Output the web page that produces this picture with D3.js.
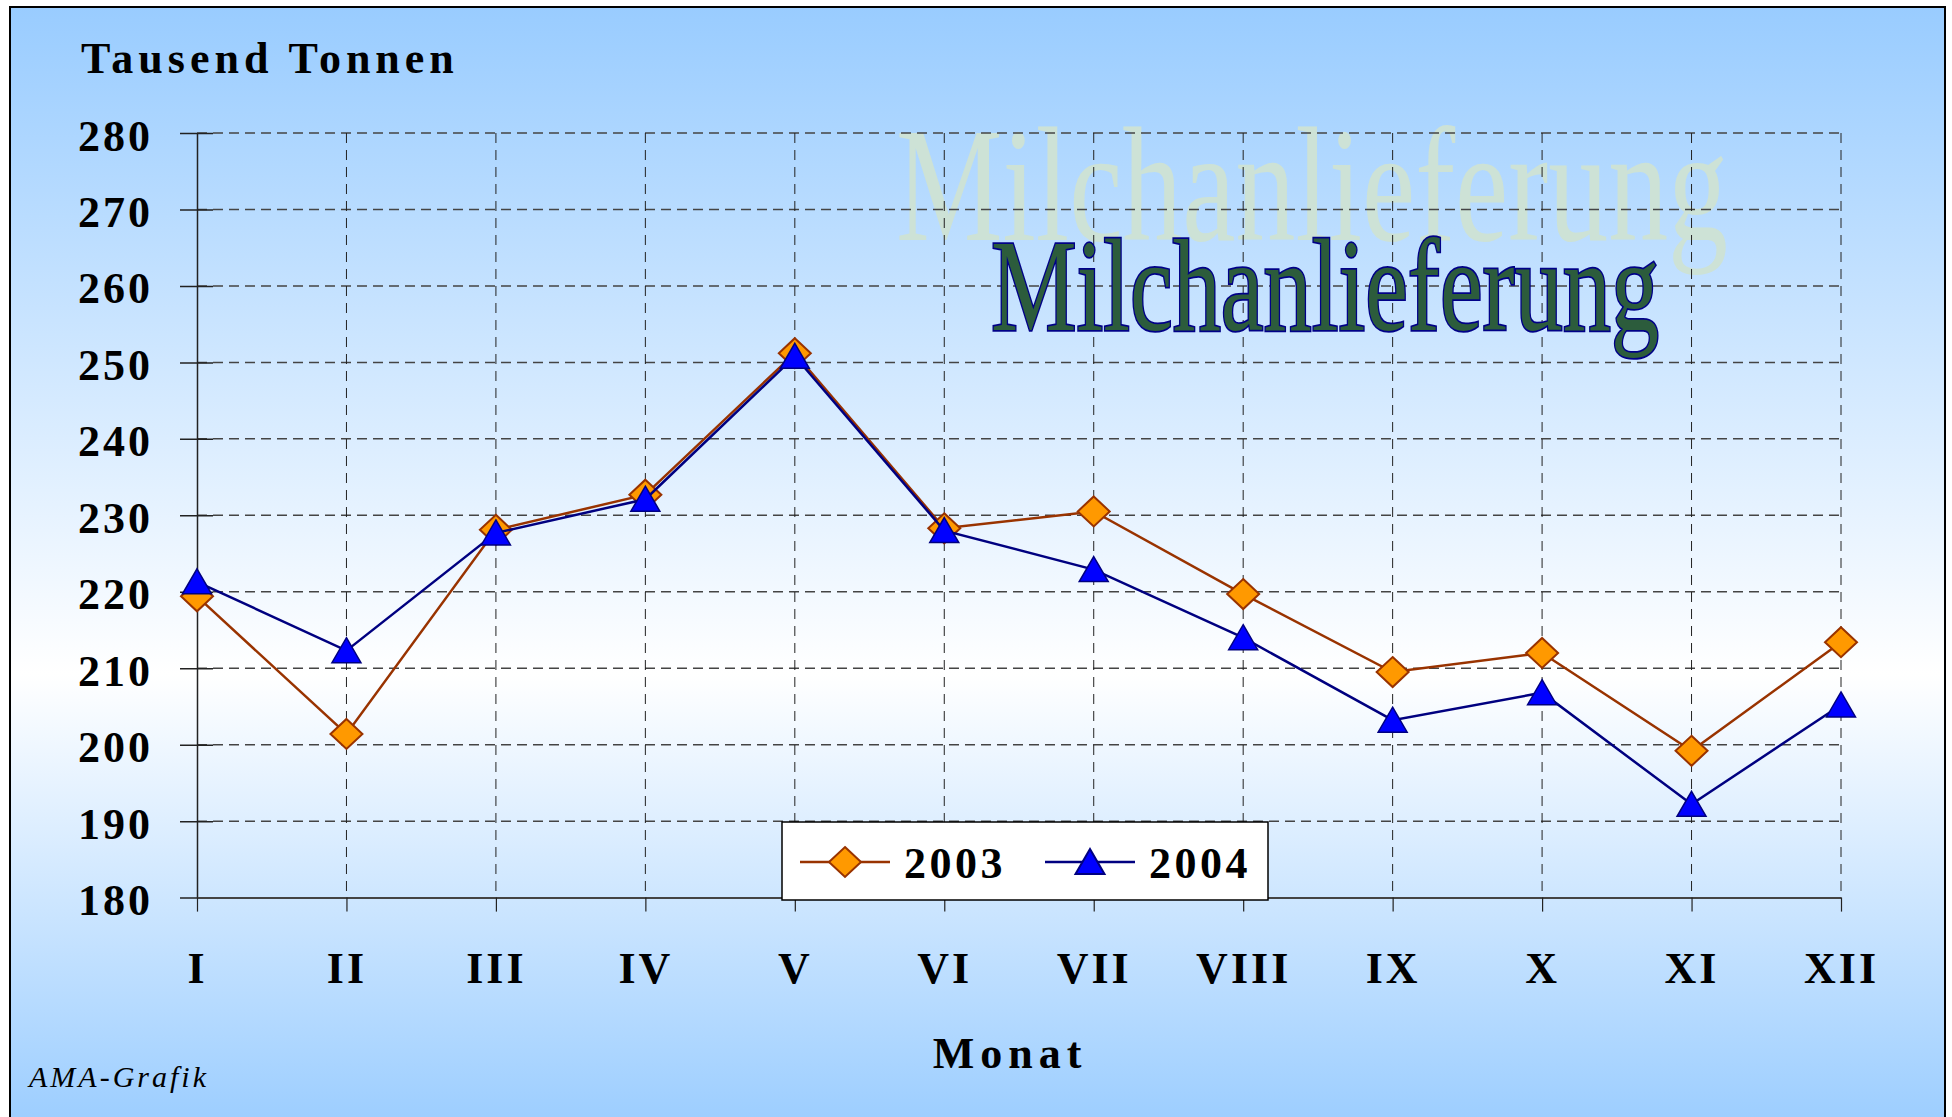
<!DOCTYPE html>
<html>
<head>
<meta charset="utf-8">
<script src="https://cdnjs.cloudflare.com/ajax/libs/d3/7.8.5/d3.min.js"></script>
<style>
    body { margin: 0; background: #fff; }
    text { font-family: 'Liberation Serif', 'Times New Roman', serif; }
</style>
</head>
<body>
<svg width="1952" height="1117"></svg>
<script>
var svg = d3.select('svg'),
    width = +svg.attr('width'),
    height = +svg.attr('height');

var months = ['I', 'II', 'III', 'IV', 'V', 'VI', 'VII', 'VIII', 'IX', 'X', 'XI', 'XII'];
var values2003 = [219.4, 201.4, 228.1, 232.7, 251.2, 228.3, 230.5, 219.7, 209.5, 212.0, 199.2, 213.4];
var values2004 = [221.3, 212.3, 227.7, 232.1, 250.8, 228.0, 222.9, 214.0, 203.2, 206.8, 192.2, 205.2];
var yTicks = [180, 190, 200, 210, 220, 230, 240, 250, 260, 270, 280];
var seriesNames = ['2003', '2004'];

var x = d3.scalePoint().domain(months).range([197, 1841]);
var y = d3.scaleLinear().domain([180, 280]).range([897.6, 133]);

// background
var defs = svg.append('defs');
var grad = defs.append('linearGradient')
        .attr('id', 'bg')
        .attr('x1', 0).attr('y1', 0).attr('x2', 0).attr('y2', 1);
grad.append('stop').attr('offset', '0%').attr('stop-color', '#99ccff');
grad.append('stop').attr('offset', '59%').attr('stop-color', '#ffffff');
grad.append('stop').attr('offset', '100%').attr('stop-color', '#99ccff');

svg.append('rect')
    .attr('x', 10).attr('y', 7)
    .attr('width', 1935).attr('height', 1130)
    .attr('fill', 'url(#bg)')
    .attr('stroke', '#000')
    .attr('stroke-width', 2);

// ghost title behind the grid
svg.append('text')
    .attr('x', 896).attr('y', 240)
    .attr('font-size', 163)
    .attr('textLength', 832)
    .attr('lengthAdjust', 'spacingAndGlyphs')
    .attr('fill', '#cde2d6')
    .text('Milchanlieferung');

// grid
svg.append('g')
    .selectAll('line')
    .data(yTicks.slice(1))
    .enter().append('line')
        .attr('x1', x('I')).attr('x2', x('XII'))
        .attr('y1', (d) => y(d)).attr('y2', (d) => y(d))
        .attr('stroke', '#444')
        .attr('stroke-width', 1.5)
        .attr('stroke-dasharray', '10,6');

svg.append('g')
    .selectAll('line')
    .data(months.slice(1))
    .enter().append('line')
        .attr('x1', (d) => x(d)).attr('x2', (d) => x(d))
        .attr('y1', y(280)).attr('y2', y(180))
        .attr('stroke', '#222')
        .attr('stroke-width', 1)
        .attr('stroke-dasharray', '10,7');

// axes
var yAxis = svg.append('g')
        .attr('transform', 'translate(' + x('I') + ',0)')
        .call(d3.axisLeft(y).tickValues(yTicks).tickSize(17).tickSizeOuter(0));
yAxis.select('.domain').attr('stroke', '#222').attr('stroke-width', 1.5);
yAxis.selectAll('.tick line').attr('x1', 16).attr('stroke', '#222').attr('stroke-width', 1.5);
yAxis.selectAll('text')
    .attr('x', -44).attr('dy', 17)
    .attr('font-size', 44)
    .attr('font-weight', 'bold')
    .attr('font-family', "'Liberation Serif', 'Times New Roman', serif")
    .attr('letter-spacing', 3)
    .attr('fill', '#000');

var xAxis = svg.append('g')
        .attr('transform', 'translate(0,' + y(180) + ')')
        .call(d3.axisBottom(x).tickSize(14).tickSizeOuter(0));
xAxis.select('.domain').attr('stroke', '#444').attr('stroke-width', 2);
xAxis.selectAll('.tick line').attr('stroke', '#222').attr('stroke-width', 1.2);
xAxis.selectAll('text')
    .attr('y', 85).attr('dy', 0)
    .attr('font-size', 44)
    .attr('font-weight', 'bold')
    .attr('font-family', "'Liberation Serif', 'Times New Roman', serif")
    .attr('letter-spacing', 3)
    .attr('fill', '#000');

// main title
svg.append('text')
    .attr('x', 991).attr('y', 330)
    .attr('font-size', 131)
    .attr('textLength', 668)
    .attr('lengthAdjust', 'spacingAndGlyphs')
    .attr('fill', '#2c5c3c')
    .attr('stroke', '#000088')
    .attr('stroke-width', 3.5)
    .attr('paint-order', 'stroke')
    .text('Milchanlieferung');

// series
var diamond = 'M0,-15L16,0L0,15L-16,0Z';
var triangle = 'M0,-13L14.5,12L-14.5,12Z';

var line = d3.line()
    .x((d, i) => x(months[i]))
    .y((d) => y(d));

svg.append('path')
    .datum(values2003)
    .attr('d', line)
    .attr('fill', 'none')
    .attr('stroke', '#993300')
    .attr('stroke-width', 2.5);

svg.append('g')
    .selectAll('path')
    .data(values2003)
    .enter().append('path')
        .attr('d', diamond)
        .attr('transform', (d, i) => 'translate(' + x(months[i]) + ',' + y(d) + ')')
        .attr('fill', '#ff9900')
        .attr('stroke', '#993300')
        .attr('stroke-width', 2);

svg.append('path')
    .datum(values2004)
    .attr('d', line)
    .attr('fill', 'none')
    .attr('stroke', '#000080')
    .attr('stroke-width', 2.5);

svg.append('g')
    .selectAll('path')
    .data(values2004)
    .enter().append('path')
        .attr('d', triangle)
        .attr('transform', (d, i) => 'translate(' + x(months[i]) + ',' + y(d) + ')')
        .attr('fill', '#0000ff')
        .attr('stroke', '#000080')
        .attr('stroke-width', 1.5);

// legend
var legend = svg.append('g').attr('transform', 'translate(782,822)');
legend.append('rect')
    .attr('width', 486).attr('height', 78)
    .attr('fill', '#fff')
    .attr('stroke', '#000')
    .attr('stroke-width', 1.5);

var legendItems = legend.selectAll('g')
    .data(seriesNames)
    .enter().append('g')
        .attr('transform', (d, i) => 'translate(' + (18 + i * 245) + ',40)');
legendItems.append('line')
    .attr('x1', 0).attr('x2', 90)
    .attr('stroke', (d, i) => i ? '#000080' : '#993300')
    .attr('stroke-width', 2.5);
legendItems.append('path')
    .attr('d', (d, i) => i ? triangle : diamond)
    .attr('transform', 'translate(45,0)')
    .attr('fill', (d, i) => i ? '#0000ff' : '#ff9900')
    .attr('stroke', (d, i) => i ? '#000080' : '#993300')
    .attr('stroke-width', 2);
legendItems.append('text')
    .attr('x', 104).attr('y', 16)
    .attr('font-size', 44)
    .attr('font-weight', 'bold')
    .attr('letter-spacing', 3.5)
    .text((d) => d);

// labels
svg.append('text')
    .attr('x', 81).attr('y', 73)
    .attr('font-size', 44)
    .attr('font-weight', 'bold')
    .attr('letter-spacing', 5)
    .text('Tausend Tonnen');

svg.append('text')
    .attr('x', 1010).attr('y', 1068)
    .attr('text-anchor', 'middle')
    .attr('font-size', 44)
    .attr('font-weight', 'bold')
    .attr('letter-spacing', 6)
    .text('Monat');

svg.append('text')
    .attr('x', 29).attr('y', 1087)
    .attr('font-size', 30)
    .attr('font-style', 'italic')
    .attr('letter-spacing', 3)
    .text('AMA-Grafik');
</script>
</body>
</html>
